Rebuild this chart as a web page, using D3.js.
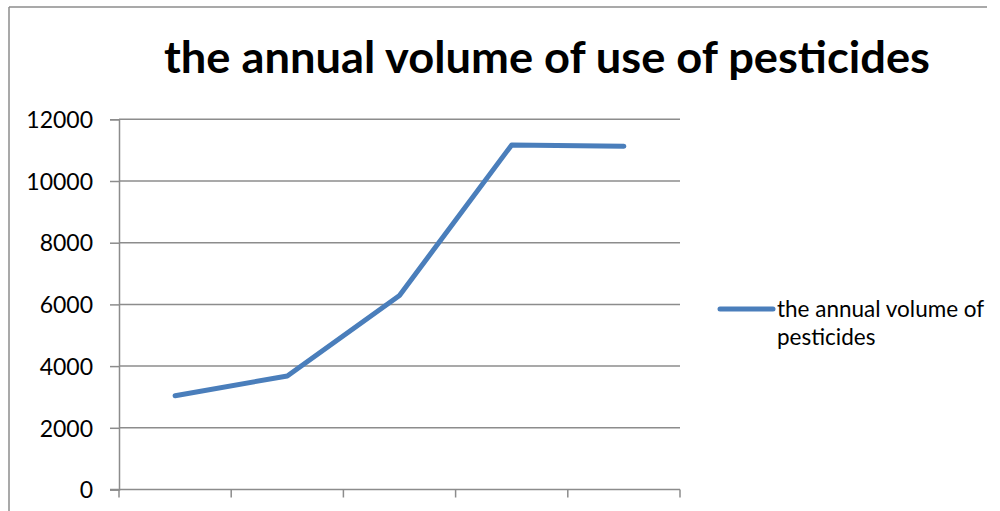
<!DOCTYPE html>
<html>
<head>
<meta charset="utf-8">
<script src="https://cdn.jsdelivr.net/npm/d3@7"></script>
<style>
  html, body { margin: 0; padding: 0; background: #fff; }
  svg { display: block; }
</style>
</head>
<body>
<svg id="chart" width="1000" height="511"></svg>
<script>
// Chart data
const categories = ["1", "2", "3", "4", "5"];
const seriesValues = [3040, 3680, 6290, 11170, 11125];
const yTicks = [0, 2000, 4000, 6000, 8000, 10000, 12000];
const titleText = "the annual volume of use of pesticides";
const legendLines = ["the annual volume of", "pesticides"];

const svg = d3.select("#chart");
const gridColor = "#8c8c8c";
const lineColor = "#4a7ebb";
const font = "Lato, 'Open Sans', sans-serif";

// Outer chart frame (top and left edges)
svg.append("line").attr("x1", 9).attr("y1", 7).attr("x2", 987).attr("y2", 7)
  .attr("stroke", gridColor).attr("stroke-width", 1.5);
svg.append("line").attr("x1", 9).attr("y1", 7).attr("x2", 9).attr("y2", 511)
  .attr("stroke", gridColor).attr("stroke-width", 1.5);

// Title
svg.append("text")
  .attr("x", 547).attr("y", 73)
  .attr("text-anchor", "middle")
  .attr("font-family", font)
  .attr("font-weight", "bold")
  .attr("font-size", 44)
  .attr("textLength", 766)
  .attr("lengthAdjust", "spacingAndGlyphs")
  .attr("fill", "#000")
  .text(titleText);

const plot = { left: 119, right: 680, top: 119.3, bottom: 489.5 };

const x = d3.scaleBand().domain(categories).range([plot.left, plot.right]);
const y = d3.scaleLinear().domain([0, 12000]).range([plot.bottom, plot.top]);

// Horizontal gridlines
svg.append("g")
  .selectAll("line")
  .data(yTicks.filter(d => d > 0))
  .join("line")
  .attr("x1", plot.left).attr("x2", plot.right)
  .attr("y1", d => y(d)).attr("y2", d => y(d))
  .attr("stroke", gridColor).attr("stroke-width", 1.5);

// Y axis
const yAxis = svg.append("g")
  .attr("transform", `translate(${plot.left},0)`)
  .call(d3.axisLeft(y).tickValues(yTicks).tickSize(9).tickPadding(17).tickFormat(d3.format("d")));
yAxis.select(".domain").attr("stroke", gridColor).attr("stroke-width", 1.5);
yAxis.selectAll(".tick line").attr("stroke", gridColor).attr("stroke-width", 1.5);
yAxis.selectAll(".tick text")
  .attr("font-family", font).attr("font-size", 23).attr("fill", "#000")
  .attr("dy", "0.36em");

// X axis (category boundaries as ticks, no labels)
const boundaries = categories.map(c => x(c)).concat([plot.right]);
const xAxis = svg.append("g").attr("transform", `translate(0,${plot.bottom})`);
xAxis.append("line")
  .attr("x1", plot.left - 9).attr("x2", plot.right)
  .attr("y1", 0).attr("y2", 0)
  .attr("stroke", gridColor).attr("stroke-width", 1.5);
xAxis.selectAll("line.tick")
  .data(boundaries)
  .join("line")
  .attr("class", "tick")
  .attr("x1", d => d).attr("x2", d => d)
  .attr("y1", 0).attr("y2", 8)
  .attr("stroke", gridColor).attr("stroke-width", 1.5);

// Series line
const line = d3.line()
  .x((d, i) => x(categories[i]) + x.bandwidth() / 2)
  .y(d => y(d));
svg.append("path")
  .datum(seriesValues)
  .attr("d", line)
  .attr("fill", "none")
  .attr("stroke", lineColor)
  .attr("stroke-width", 5)
  .attr("stroke-linejoin", "round")
  .attr("stroke-linecap", "round");

// Legend
const legend = svg.append("g");
legend.append("line")
  .attr("x1", 720).attr("x2", 773).attr("y1", 309).attr("y2", 309)
  .attr("stroke", lineColor).attr("stroke-width", 5).attr("stroke-linecap", "round");
legend.selectAll("text")
  .data(legendLines)
  .join("text")
  .attr("x", 777)
  .attr("y", (d, i) => 317 + i * 28)
  .attr("font-family", font)
  .attr("font-size", 22.5)
  .attr("fill", "#000")
  .text(d => d);
</script>
</body>
</html>
